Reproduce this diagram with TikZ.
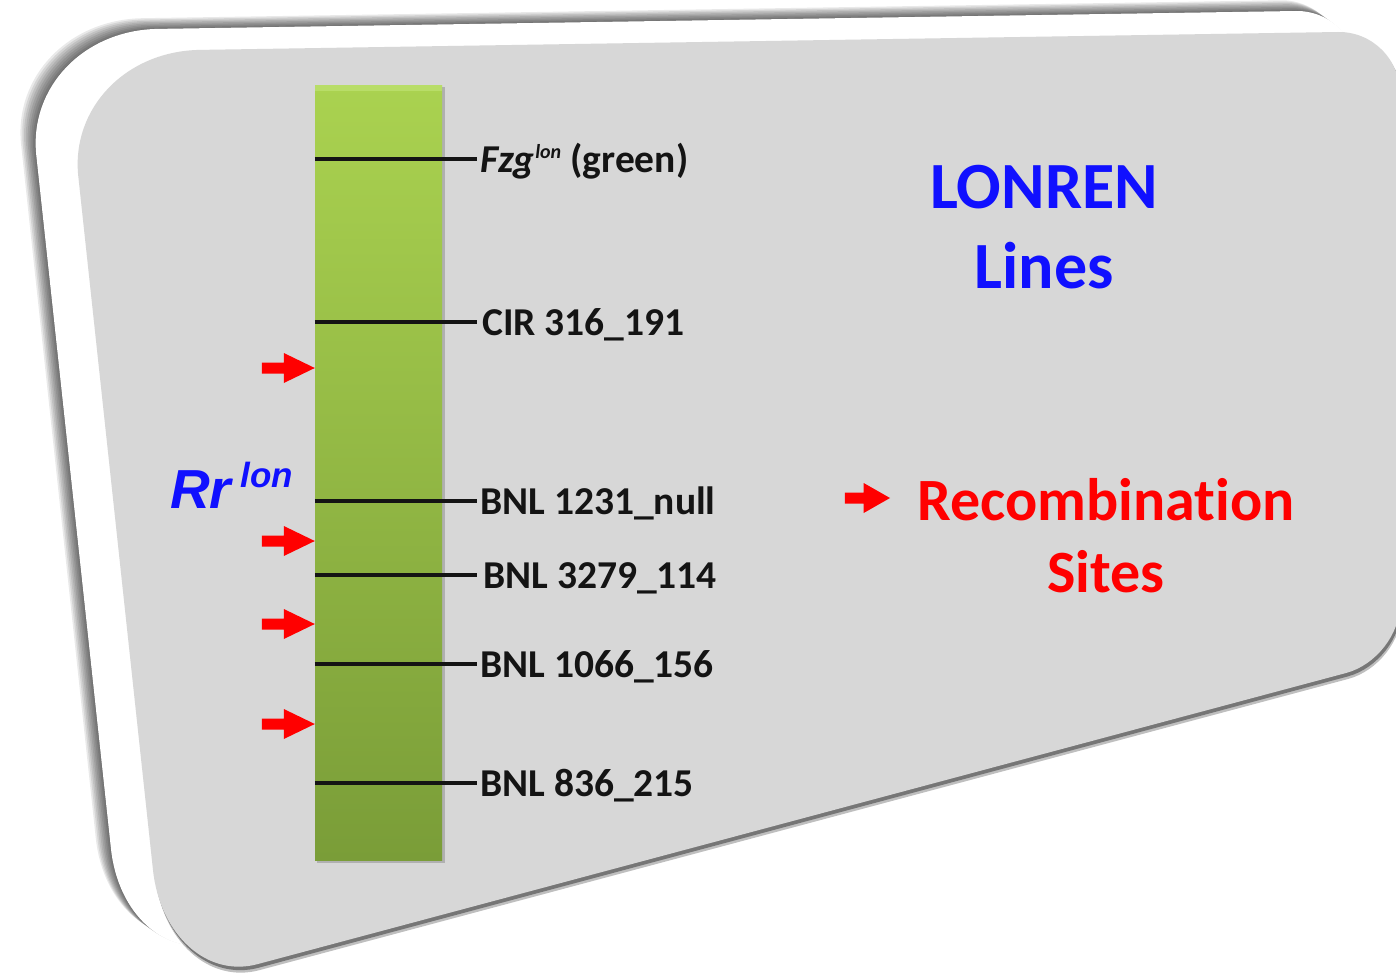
\documentclass[tikz,border=0pt]{standalone}
\usepackage{fontspec}
\setmainfont{Carlito}[Ligatures={NoCommon,NoRequired,NoContextual},Contextuals=NoAlternate]
\newfontfamily\arialf{Liberation Sans}
\definecolor{plategray}{RGB}{215,215,215}
\definecolor{edgegray}{RGB}{118,118,118}
\definecolor{bartop}{RGB}{170,210,80}
\definecolor{barbot}{RGB}{122,157,56}
\definecolor{barhi}{RGB}{188,224,110}
\definecolor{lonblue}{RGB}{16,16,255}
\definecolor{recred}{RGB}{255,0,0}
\definecolor{labelblack}{RGB}{20,20,20}
\newcommand{\plate}{(78.3,176.3) -- (153,870) .. controls (160,935) and (207,978) .. (258,964) -- (1346,673) .. controls (1376,665) and (1400,634) .. (1400,604) -- (1400,94) .. controls (1400,59) and (1372,31.5) .. (1338,32) -- (200,49.9) .. controls (126,51) and (71,108) .. (78.3,176.3) -- cycle}
\begin{document}
\begin{tikzpicture}[x=1pt,y=-1pt,
  bar/.style={rectangle, inner sep=0pt, minimum width=127pt, minimum height=775pt, top color=bartop, bottom color=barbot},
  marker/.style={line width=3.2pt, black!92},
  lbl/.style={anchor=base west, inner sep=0pt, text=labelblack, font=\fontsize{39.5}{44}\selectfont\bfseries},
  title/.style={anchor=base, inner sep=0pt, text=lonblue, font=\fontsize{66}{72}\selectfont\bfseries},
  legend/.style={anchor=base, inner sep=0pt, text=recred, font=\fontsize{60}{66}\selectfont\bfseries},
  redarrow/.pic={\fill[recred] (-53,-5.5) -- (-31,-5.5) -- (-31,-15) -- (0,0) -- (-31,15) -- (-31,5.5) -- (-53,5.5) -- cycle;}
]
\useasboundingbox (0,0) rectangle (1396,974);
\fill[white] (0,0) rectangle (1396,974);
% shadow of the raised rim
\foreach \k in {1,...,9}{
  \fill[black, opacity=0.085, shift={({-41-1.8*\k},{-20-1.3*\k})}] \plate;
}
% white rim
\fill[white, shift={(-42,-21)}] \plate;
% drop shadow of the plate
\fill[black, opacity=0.25, shift={(2,6)}] \plate;
\fill[edgegray, shift={(1.5,3.5)}] \plate;
% plate
\fill[plategray] \plate;

% chromosome bar
\fill[black, opacity=0.18] (317,87) rectangle (444.5,862.5);
\node[bar] (bar) at (378.5,472.5) {};
\fill[barhi, opacity=0.8] (315,85) rectangle (442,91);

% markers
\coordinate (m1) at (477,159);
\coordinate (m2) at (477,322);
\coordinate (m3) at (477,501);
\coordinate (m4) at (477,575);
\coordinate (m5) at (477,664);
\coordinate (m6) at (477,783);
\draw[marker] (bar.west |- m1) -- (m1);
\draw[marker] (bar.west |- m2) -- (m2);
\draw[marker] (bar.west |- m3) -- (m3);
\draw[marker] (bar.west |- m4) -- (m4);
\draw[marker] (bar.west |- m5) -- (m5);
\draw[marker] (bar.west |- m6) -- (m6);
\node[lbl] (l1) at (480,172) {{\itshape Fzg}\hspace{1pt}\raisebox{14pt}{\fontsize{20}{20}\selectfont\itshape lon}\hspace{9pt}(green)};
\node[lbl] (l2) at (482,335) {CIR 316\_191};
\node[lbl] (l3) at (480,514) {BNL 1231\_null};
\node[lbl] (l4) at (483,588) {BNL 3279\_114};
\node[lbl] (l5) at (480,677) {BNL 1066\_156};
\node[lbl] (l6) at (480,796) {BNL 836\_215};

% recombination arrows
\pic at (bar.west |- 0,368) {redarrow};
\pic at (bar.west |- 0,541) {redarrow};
\pic at (bar.west |- 0,624) {redarrow};
\pic at (bar.west |- 0,724) {redarrow};

% Rr lon
\node[anchor=base west, inner sep=0pt, text=lonblue, font=\arialf\bfseries\itshape\fontsize{55}{60}\selectfont] (rr) at (170,508) {Rr\hspace{9pt}\raisebox{21pt}{\fontsize{35}{38}\selectfont lon}};

% titles
\node[title] (t1) at (1044,208) {LONREN};
\node[title] (t2) at (1044,288) {Lines};

% legend
\coordinate (legtip) at (890,498);
\pic[xscale=0.85] at (legtip) {redarrow};
\node[legend] (r1) at (1106,520) {Recombinat\kern0pt ion};
\node[legend] (r2) at (1106,592) {Sites};
\end{tikzpicture}
\end{document}
